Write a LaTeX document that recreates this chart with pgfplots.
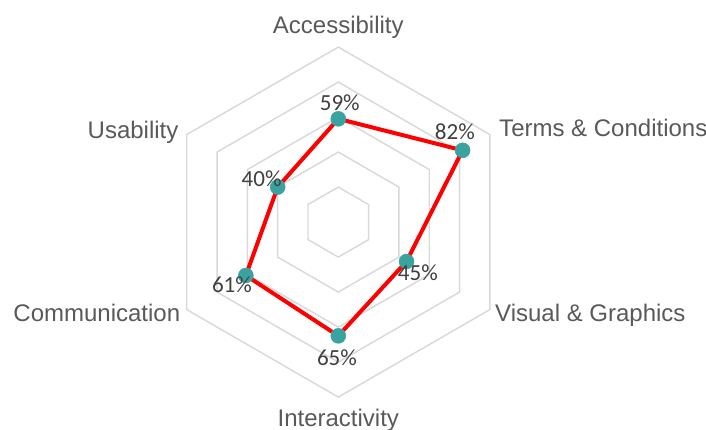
\documentclass[border=0pt]{standalone}
\usepackage{pgfplots}
\pgfplotsset{compat=1.18}
\usepackage{pgfplotstable}
\usepackage{fontspec}
\setmainfont{Liberation Sans}
\newfontfamily\calibri{Carlito}
\definecolor{gridgray}{HTML}{D9D9D9}
\definecolor{labelgray}{HTML}{595959}
\definecolor{datagray}{HTML}{404040}
\definecolor{markteal}{HTML}{3AA39F}
\definecolor{linered}{HTML}{FF0000}

% angle (deg), value (%), label offset dx, dy (pt); last row closes the loop
\pgfplotstableread{
angle value dx dy
90 59 1.1 12
30 82 -5.8 14
-30 45 8.5 -8.3
-90 65 -1 -16.7
-150 61 -10.4 -7.2
150 40 -12 6.2
90 59 1.1 12
}\radardata

\begin{document}
\begin{tikzpicture}
\begin{axis}[
  name=ax,
  hide axis,
  x=1.3125pt, y=1.3125pt,
  xmin=-193.3, xmax=210.1,
  ymin=-118.3, ymax=126.9,
  clip=false,
  /pgf/number format/assume math mode=true,
]
% hexagonal grid
\addplot[gridgray, line width=1.1pt, data cs=polar, line join=miter, line cap=round] coordinates {(90,20) (30,20) (-30,20) (-90,20) (-150,20) (150,20) (90,20)};
\addplot[gridgray, line width=1.1pt, data cs=polar, line join=miter, line cap=round] coordinates {(90,40) (30,40) (-30,40) (-90,40) (-150,40) (150,40) (90,40)};
\addplot[gridgray, line width=1.1pt, data cs=polar, line join=miter, line cap=round] coordinates {(90,60) (30,60) (-30,60) (-90,60) (-150,60) (150,60) (90,60)};
\addplot[gridgray, line width=1.1pt, data cs=polar, line join=miter, line cap=round] coordinates {(90,80) (30,80) (-30,80) (-90,80) (-150,80) (150,80) (90,80)};
\addplot[gridgray, line width=1.1pt, data cs=polar, line join=miter, line cap=round] coordinates {(90,100) (30,100) (-30,100) (-90,100) (-150,100) (150,100) (90,100)};
% data line
\addplot[linered, line width=3pt, data cs=polar, line join=round, line cap=round] table[x=angle, y=value] {\radardata};
% markers and labels
\addplot[
  only marks, mark=*, mark size=5.6pt, markteal, data cs=polar,
  skip coords between index={6}{7},
  point meta=explicit,
  visualization depends on={\thisrow{dx} \as \ldx},
  visualization depends on={\thisrow{dy} \as \ldy},
  nodes near coords={\pgfmathprintnumber[assume math mode=true]{\pgfplotspointmeta}\%},
  every node near coord/.append style={font=\calibri\fontsize{17.3}{20}\selectfont, text=datagray, anchor=center, xshift=\ldx pt, yshift=\ldy pt, inner sep=0pt},
] table[x=angle, y=value, meta=value] {\radardata};
% category labels
\begin{scope}[every node/.style={font=\fontsize{18}{21}\selectfont, text=labelgray, inner sep=0pt}]
\node[anchor=base] at (axis cs:0,107.8) {Accessibility};
\node[anchor=base west] at (axis cs:91.8,48.7) {Terms \& Conditions};
\node[anchor=base west] at (axis cs:89.5,-57.0) {Visual \& Graphics};
\node[anchor=base] at (axis cs:0,-117.0) {Interactivity};
\node[anchor=base east] at (axis cs:-90.2,-57.0) {Communication};
\node[anchor=base east] at (axis cs:-91.2,47.8) {Usability};
\end{scope}
\end{axis}
\pgfresetboundingbox
\useasboundingbox (ax.south west) rectangle (ax.north east);
\end{tikzpicture}
\end{document}
